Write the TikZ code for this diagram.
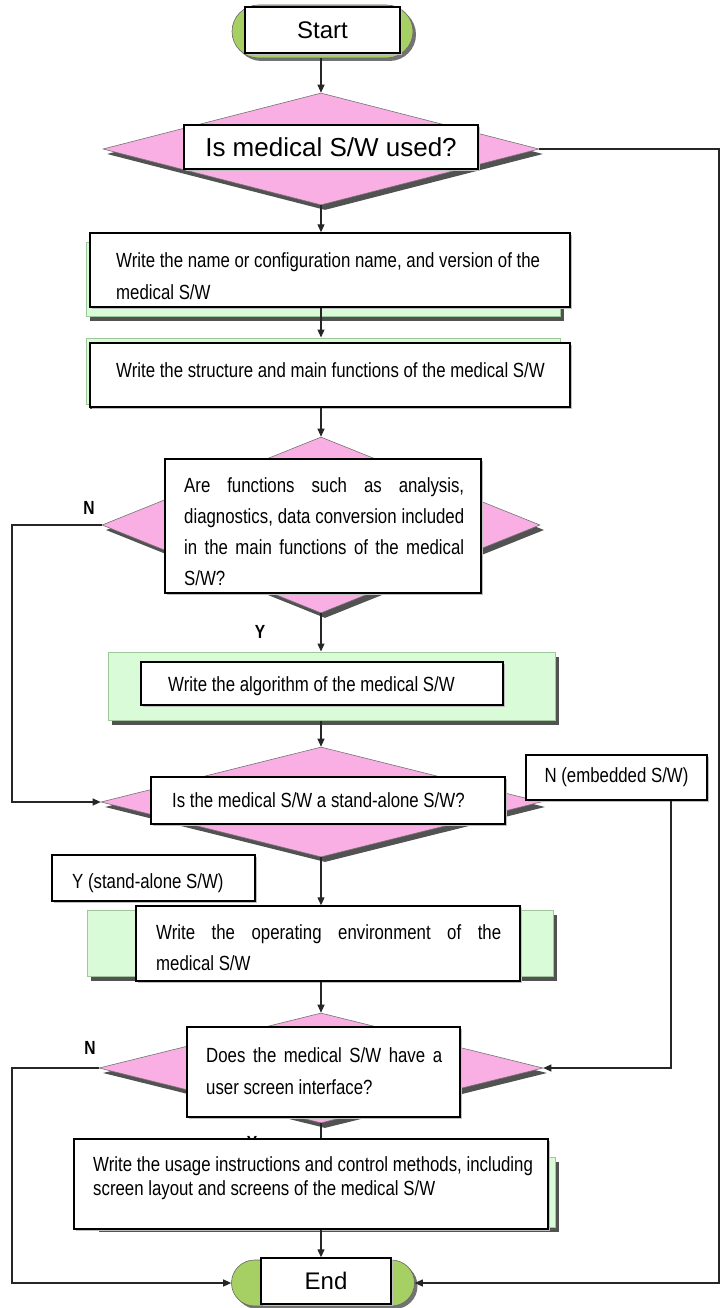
\documentclass[tikz,border=0pt]{standalone}
\usepackage{fontspec}
\setmainfont{Liberation Sans}
\newfontfamily\narrow[FakeStretch=0.82]{Liberation Sans}
\usetikzlibrary{shapes.geometric,shapes.misc,arrows.meta,shadows}
\definecolor{dpink}{HTML}{FAAFE4}
\definecolor{tgreen}{HTML}{A6CF64}
\definecolor{lgreen}{HTML}{DAFBD8}
\definecolor{gedge}{HTML}{9FC79C}
\tikzset{
  conn/.style={line width=1.1pt, draw=black!85},
  arr/.style={conn, -{Triangle[length=8pt,width=7pt]}},
  shd/.style={general shadow={fill=black!68, shadow xshift=4pt, shadow yshift=-5pt}},
  dia/.style={diamond, draw=black!55, line width=0.6pt, fill=dpink, inner sep=0pt, shd},
  wbox/.style={rectangle, draw=black, line width=1.4pt, fill=white, inner sep=0pt,
     general shadow={fill=black!25, shadow xshift=2pt, shadow yshift=-2pt}},
  gbox/.style={rectangle, draw=gedge, line width=1pt, fill=lgreen, inner sep=0pt, shd},
  term/.style={rounded rectangle, draw=black!60, line width=0.6pt, fill=tgreen, inner sep=0pt,
     general shadow={fill=black!55, shadow xshift=3pt, shadow yshift=-3pt}},
  txt/.style={font=\narrow\fontsize{20.5}{31}\selectfont, anchor=west, inner sep=0pt, align=left},
  lbl/.style={font=\narrow\bfseries\fontsize{19}{21}\selectfont, inner sep=0pt},
}
\begin{document}
\begin{tikzpicture}[x=1pt,y=-1pt]
\useasboundingbox (0,0) rectangle (720,1308);
\coordinate (cx) at (321,0);
\coordinate (l1) at (12,0);
\coordinate (r1) at (719,0);
\coordinate (r2) at (671,0);

% Start
\node[term, minimum width=181pt, minimum height=53pt] (startbg) at (322.5,31.5) {};
\node[wbox, minimum width=155pt, minimum height=46pt, font=\fontsize{24}{28}\selectfont] (start) at (322.5,30) {Start};

% Decision 1
\node[dia, minimum width=436pt, minimum height=112pt] (d1) at (321,149) {};
\node[wbox, minimum width=294pt, minimum height=44pt, font=\fontsize{26}{30}\selectfont] (d1t) at (331,147) {Is medical S/W used?};

% Box 2
\node[gbox, minimum width=474pt, minimum height=74pt] (g2) at (323,279) {};
\node[wbox, minimum width=480pt, minimum height=74pt] (b2) at (330,270) {};
\node[txt, font=\narrow\fontsize{20.5}{32}\selectfont] (t2) at (116,276) {Write the name or configuration name, and version of the\\medical S/W};

% Box 3
\node[gbox, minimum width=474pt, minimum height=66pt] (g3) at (323,371) {};
\node[wbox, minimum width=480pt, minimum height=64pt] (b3) at (330,375) {};
\node[txt] (t3) at (116,370) {Write the structure and main functions of the medical S/W};

% Decision 3
\node[dia, minimum width=438pt, minimum height=176pt] (d3) at (321,525) {};
\node[wbox, minimum width=316pt, minimum height=134pt] (d3t) at (323,526) {};
\node[txt, text width=280pt, align=justify] (t3d) at (184,532) {Are functions such as analysis,\linebreak diagnostics, data conversion included\linebreak in the main functions of the medical\linebreak S/W?};
\node[lbl] (n1) at (89,508) {N};
\node[lbl] (y1) at (260,632) {Y};

% Box 4
\node[gbox, minimum width=447pt, minimum height=68pt] (g4) at (331.5,686) {};
\node[wbox, minimum width=362pt, minimum height=43pt] (b4) at (322,683.5) {};
\node[txt] (t4) at (168,686) {Write the algorithm of the medical S/W};

% Decision 4
\node[dia, minimum width=440pt, minimum height=110pt] (d4) at (321,802) {};
\node[wbox, minimum width=354pt, minimum height=47pt] (d4t) at (328,800.5) {};
\node[txt] (t4d) at (172,800) {Is the medical S/W a stand-alone S/W?};
\node[wbox, minimum width=181pt, minimum height=45pt, font=\narrow\fontsize{20.5}{24}\selectfont] (nbox) at (616.5,777.5) {N (embedded S/W)};
\node[wbox, minimum width=203pt, minimum height=46pt] (ybox) at (153.5,878) {};
\node[txt] (ty) at (72,883) {Y (stand-alone S/W)};

% Box 5
\node[gbox, minimum width=466pt, minimum height=66pt] (g5) at (320,943) {};
\node[wbox, minimum width=384pt, minimum height=75pt] (b5) at (328,943.5) {};
\node[txt, text width=345pt, align=justify] (t5) at (156,947.5) {Write the operating environment of the\linebreak medical S/W};

% Decision 5
\node[dia, minimum width=444pt, minimum height=110pt] (d5) at (321,1068) {};
\node[wbox, minimum width=273pt, minimum height=90pt] (d5t) at (323.5,1072) {};
\node[txt, text width=236pt, align=justify, font=\narrow\fontsize{20.5}{32}\selectfont] (t5d) at (206,1071) {Does the medical S/W have a\linebreak user screen interface?};
\node[lbl] (n2) at (90,1048) {N};
\node[lbl] (y2) at (252,1143) {Y};

% Box 6
\node[gbox, minimum width=460pt, minimum height=70pt] (g6) at (325,1192) {};
\node[wbox, minimum width=474pt, minimum height=90pt] (b6) at (311,1184) {};
\node[txt, font=\narrow\fontsize{20.5}{24}\selectfont] (t6) at (93,1178) {Write the usage instructions and control methods, including\\screen layout and screens of the medical S/W};

% End
\node[term, minimum width=183pt, minimum height=46pt] (endbg) at (323,1283) {};
\node[wbox, minimum width=130pt, minimum height=46pt, font=\fontsize{24}{28}\selectfont] (end) at (326,1281) {End};

% Connectors
\draw[arr] (startbg.south -| cx) -- (d1.north -| cx);
\draw[arr] (d1.south -| cx) -- (b2.north -| cx);
\draw[arr] (b2.south -| cx) -- (g3.north -| cx);
\draw[arr] (b3.south -| cx) -- (d3.north -| cx);
\draw[arr] (d3.south -| cx) -- (g4.north -| cx);
\draw[arr] (g4.south -| cx) -- (d4.north -| cx);
\draw[arr] (d4.south -| cx) -- (b5.north -| cx);
\draw[arr] (b5.south -| cx) -- (d5.north -| cx);
\draw[conn] (d5.south -| cx) -- (b6.north -| cx);
\draw[arr] (b6.south -| cx) -- (end.north -| cx);
\draw[arr] (d1.east) -- (d1.east -| r1) -- (endbg.east -| r1) -- (endbg.east);
\draw[arr] (d3.west) -- (d3.west -| l1) -- (d4.west -| l1) -- (d4.west);
\draw[arr] (nbox.south -| r2) -- (d5.east -| r2) -- (d5.east);
\draw[arr] (d5.west) -- (d5.west -| l1) -- (endbg.west -| l1) -- (endbg.west);
\end{tikzpicture}
\end{document}
